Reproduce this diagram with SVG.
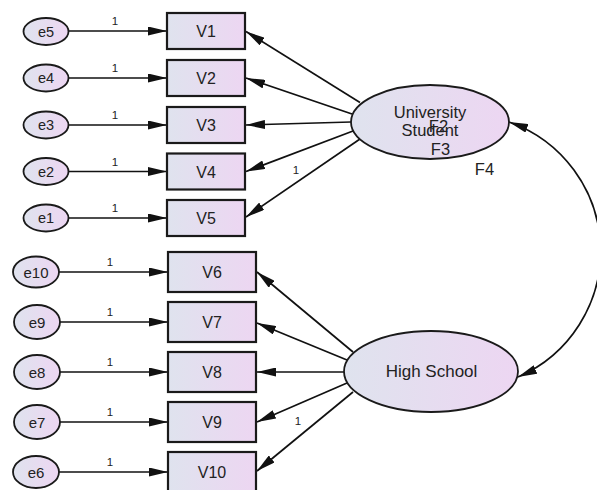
<svg xmlns="http://www.w3.org/2000/svg" width="597" height="490" viewBox="0 0 597 490">
  <defs>
    <linearGradient id="fillGrad" x1="0" y1="0" x2="1" y2="0">
      <stop offset="0" stop-color="#dfe3ee"/>
      <stop offset="1" stop-color="#edd6f2"/>
    </linearGradient>
    <marker id="arrow" viewBox="0 0 19 9" refX="19" refY="4.5" markerWidth="19" markerHeight="9" markerUnits="userSpaceOnUse" orient="auto-start-reverse">
      <path d="M0,0 L19,4.5 L0,9 z" fill="#111"/>
    </marker>
  </defs>
  <style>
    .obs { fill: url(#fillGrad); stroke: #1a1a1a; stroke-width: 2.2; }
    .lat { fill: url(#fillGrad); stroke: #1a1a1a; stroke-width: 1.8; }
    .err { fill: url(#fillGrad); stroke: #1a1a1a; stroke-width: 1.8; }
    .edge { fill: none; stroke: #111; stroke-width: 1.7; marker-end: url(#arrow); }
    .cov { fill: none; stroke: #111; stroke-width: 1.7; marker-start: url(#arrow); marker-end: url(#arrow); }
    text { font-family: "Liberation Sans", Arial, sans-serif; fill: #222; text-anchor: middle; }
    .vt { font-size: 16px; }
    .vb { font-size: 16px; }
    .et { font-size: 14.5px; }
    .eb { font-size: 15px; }
    .one { font-size: 11.5px; fill: #222; }
    .lt { font-size: 16.5px; }
  </style>

  <!-- connectors -->
  <g id="connectors">
    <!-- error terms to indicators, upper block -->
    <line class="edge" x1="69" y1="31" x2="167" y2="31"/>
    <line class="edge" x1="69" y1="78" x2="167" y2="78"/>
    <line class="edge" x1="69" y1="125" x2="167" y2="125"/>
    <line class="edge" x1="69" y1="171.5" x2="167" y2="171.5"/>
    <line class="edge" x1="69" y1="218" x2="167" y2="218"/>
    <!-- error terms to indicators, lower block -->
    <line class="edge" x1="59" y1="272" x2="168" y2="272"/>
    <line class="edge" x1="60" y1="322" x2="168" y2="322"/>
    <line class="edge" x1="60" y1="372" x2="168" y2="372"/>
    <line class="edge" x1="60" y1="422" x2="168" y2="422"/>
    <line class="edge" x1="59" y1="472" x2="168" y2="472"/>
    <!-- University Student loadings -->
    <line class="edge" x1="360" y1="102.5" x2="246" y2="31.5"/>
    <line class="edge" x1="352" y1="114" x2="246" y2="78"/>
    <line class="edge" x1="351" y1="122" x2="246" y2="125"/>
    <line class="edge" x1="353" y1="131" x2="246" y2="171.5"/>
    <line class="edge" x1="360" y1="139" x2="246" y2="217"/>
    <!-- High School loadings -->
    <line class="edge" x1="353" y1="352" x2="257" y2="272"/>
    <line class="edge" x1="347" y1="360" x2="257" y2="323"/>
    <line class="edge" x1="344" y1="372" x2="257" y2="372"/>
    <line class="edge" x1="347" y1="383" x2="257" y2="422"/>
    <line class="edge" x1="353" y1="392" x2="257" y2="471"/>
    <!-- covariance between factors -->
    <path class="cov" d="M509 122 A137 137 0 0 1 518 377"/>
    <!-- path coefficient labels -->
    <text class="one" x="115" y="25">1</text>
    <text class="one" x="115" y="72">1</text>
    <text class="one" x="115" y="119">1</text>
    <text class="one" x="115" y="165.5">1</text>
    <text class="one" x="115" y="212">1</text>
    <text class="one" x="110" y="266">1</text>
    <text class="one" x="110" y="316">1</text>
    <text class="one" x="110" y="366">1</text>
    <text class="one" x="110" y="416">1</text>
    <text class="one" x="110" y="466">1</text>
    <text class="one" x="296" y="173.5">1</text>
    <text class="one" x="298" y="425">1</text>
  </g>

  <!-- error terms -->
  <g id="e5"><ellipse class="err" cx="46" cy="31.5" rx="22.5" ry="13.5"/><text class="et" x="46" y="36.5">e5</text></g>
  <g id="e4"><ellipse class="err" cx="46" cy="78" rx="22.5" ry="13.5"/><text class="et" x="46" y="83">e4</text></g>
  <g id="e3"><ellipse class="err" cx="46" cy="125" rx="22.5" ry="13.5"/><text class="et" x="46" y="130">e3</text></g>
  <g id="e2"><ellipse class="err" cx="46" cy="171.5" rx="22.5" ry="13.5"/><text class="et" x="46" y="176.5">e2</text></g>
  <g id="e1"><ellipse class="err" cx="46" cy="218" rx="22.5" ry="13.5"/><text class="et" x="46" y="223">e1</text></g>
  <g id="e10"><ellipse class="err" cx="36" cy="272" rx="23" ry="15.5"/><text class="eb" x="36" y="277.5">e10</text></g>
  <g id="e9"><ellipse class="err" cx="37" cy="322" rx="23" ry="17"/><text class="eb" x="37" y="327.5">e9</text></g>
  <g id="e8"><ellipse class="err" cx="37" cy="372" rx="23" ry="17"/><text class="eb" x="37" y="377.5">e8</text></g>
  <g id="e7"><ellipse class="err" cx="37" cy="422" rx="23" ry="17"/><text class="eb" x="37" y="427.5">e7</text></g>
  <g id="e6"><ellipse class="err" cx="36" cy="472" rx="23" ry="16"/><text class="eb" x="36" y="477.5">e6</text></g>

  <!-- observed indicators -->
  <g id="V1"><rect class="obs" x="167" y="13" width="78" height="36"/><text class="vt" x="206" y="37">V1</text></g>
  <g id="V2"><rect class="obs" x="167" y="60" width="78" height="36"/><text class="vt" x="206" y="84">V2</text></g>
  <g id="V3"><rect class="obs" x="167" y="107" width="78" height="36"/><text class="vt" x="206" y="131">V3</text></g>
  <g id="V4"><rect class="obs" x="167" y="153.5" width="78" height="36"/><text class="vt" x="206" y="177.5">V4</text></g>
  <g id="V5"><rect class="obs" x="167" y="200" width="78" height="36"/><text class="vt" x="206" y="224">V5</text></g>
  <g id="V6"><rect class="obs" x="168" y="252" width="88" height="40"/><text class="vb" x="212" y="278">V6</text></g>
  <g id="V7"><rect class="obs" x="168" y="302" width="88" height="40"/><text class="vb" x="212" y="328">V7</text></g>
  <g id="V8"><rect class="obs" x="168" y="352" width="88" height="40"/><text class="vb" x="212" y="378">V8</text></g>
  <g id="V9"><rect class="obs" x="168" y="402" width="88" height="40"/><text class="vb" x="212" y="428">V9</text></g>
  <g id="V10"><rect class="obs" x="168" y="452" width="88" height="40"/><text class="vb" x="212" y="478">V10</text></g>

  <!-- latent factors -->
  <g id="UniversityStudent">
    <ellipse class="lat" cx="430" cy="122" rx="79" ry="37"/>
    <text class="lt" x="430" y="118">University</text>
    <text class="lt" x="430" y="136">Student</text>
    <text class="lt" x="438.5" y="131.5">F2</text>
    <text class="lt" x="440.5" y="155">F3</text>
    <text class="lt" x="484.5" y="175">F4</text>
  </g>
  <g id="HighSchool">
    <ellipse class="lat" cx="431" cy="371.5" rx="87" ry="40.5"/>
    <text class="lt" x="431.5" y="377" style="font-size:17px">High School</text>
  </g>
</svg>
